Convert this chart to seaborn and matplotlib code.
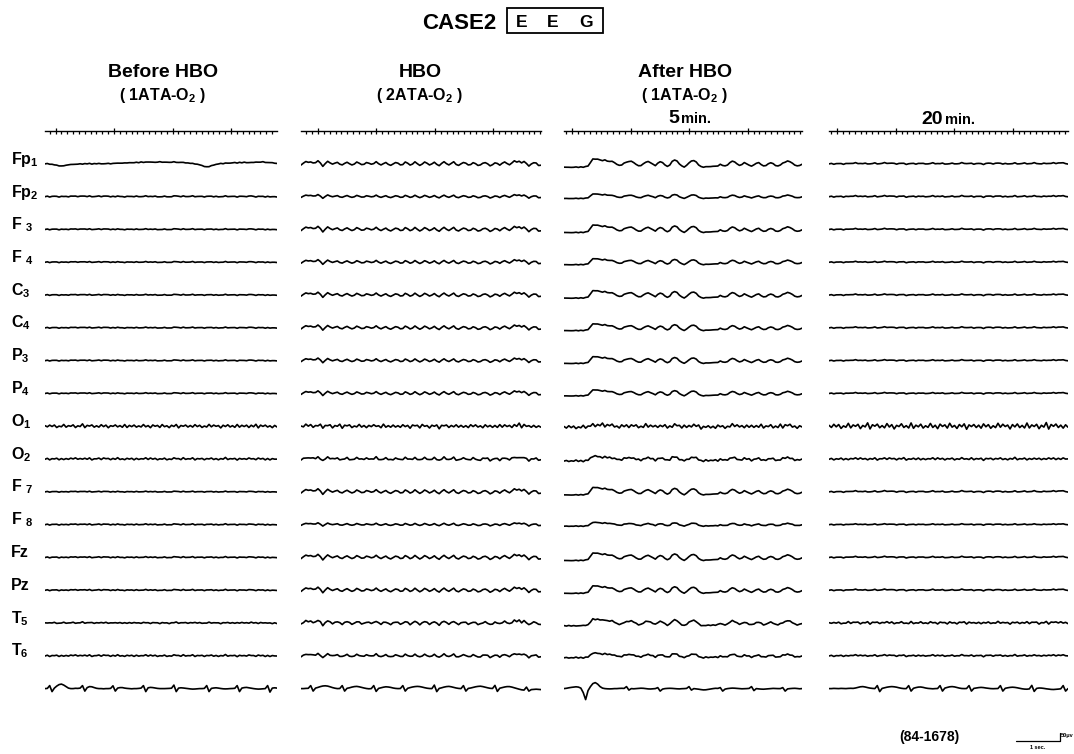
#!/usr/bin/env python3
# -*- coding: utf-8 -*-
import numpy as np
import pandas as pd
import matplotlib
matplotlib.use('Agg')
import matplotlib.pyplot as plt
from matplotlib.ticker import MultipleLocator
from matplotlib.patches import Rectangle
from matplotlib.lines import Line2D
import seaborn as sns

#%% channels

channels=["Fp1","Fp2","F3","F4","C3","C4","P3","P4","O1","O2","F7","F8","Fz","Pz","T5","T6"]
labels=["Fp$_\\mathbf{1}$","Fp$_\\mathbf{2}$","F $_\\mathbf{3}$","F $_\\mathbf{4}$",
        "C$_\\mathbf{3}$","C$_\\mathbf{4}$","P$_\\mathbf{3}$","P$_\\mathbf{4}$",
        "O$_\\mathbf{1}$","O$_\\mathbf{2}$","F $_\\mathbf{7}$","F $_\\mathbf{8}$",
        "Fz","Pz","T$_\\mathbf{5}$","T$_\\mathbf{6}$"]
titles=["Before HBO","HBO","After HBO",""]
subtitles=["( 1ATA-O$_\\mathbf{2}$ )","( 2ATA-O$_\\mathbf{2}$ )","( 1ATA-O$_\\mathbf{2}$ )",""]
times=["","","5","20"]

#%% traces (pixels, up = positive), 100 samples per panel

before_wave=[0,0.3,-0.2,0.2,0.5,0,-0.3,0.2,0.4,0.1,
 -0.2,0.3,0.6,0.2,0,0.4,0.8,0.3,0.1,0.5,
 0.2,-0.1,0.3,0.5,0.1,0.2,0.6,0.3,0,0.2,
 -0.1,0.2,0.4,0,-0.3,0.1,0.3,-0.1,0.2,0.5,
 0.1,-0.2,0.2,0.6,0.2,-0.1,0.1,0.4,0,-0.4,
 -0.1,0.3,0.1,-0.3,0,0.5,0.8,0.3,0.1,0.4,
 0.2,-0.1,0.3,0.6,0.2,0,0.3,0.1,-0.2,0.2,
 0.5,0.1,-0.1,0.3,0,-0.3,0.1,0.4,0.2,0,
 0.3,0.1,-0.2,0.2,0.5,0.1,0,0.3,0.9,0.2,
 -0.3,0,0.3,0.1,-0.2,0.2,0,-0.3,0,-0.5]

fp1_before=[0,0.2,-0.3,-0.5,-1,-1.5,-2,-2.2,-1.8,-1.5,
 -1,-0.8,-0.5,-0.7,-0.3,0,-0.2,0.1,0,0.3,
 -0.1,0.2,0,0.3,0.1,-0.2,0.2,0.4,0.1,0.3,
 0.6,0.4,0.8,0.6,1,0.7,1.2,0.9,1.3,1.5,
 1.2,1.8,1.4,1.6,1.9,1.5,1.7,1.4,1.8,2,
 1.6,1.5,1.8,1.4,1.6,1.9,1.5,1.3,1.6,1.2,
 1.0,0.8,0.5,0.3,0,-0.5,-1,-1.8,-2.6,-3,
 -2.8,-2,-1.2,-0.6,0,0.3,0.1,0.5,0.8,0.6,
 1,1.2,0.9,1.4,1.1,1.6,1.2,1,1.5,1.3,
 1.8,1.4,1.7,2,1.5,1.2,1.4,1,0.6,0.3]

hbo_wave=[-1.0,0.5,2.0,1.2,1.6,0.6,1.0,2.5,0.8,-2.2,
 0.2,2.0,0.8,-0.4,0.6,1.2,-0.2,-1.0,0.4,1.2,
 0.2,-1.0,-0.2,1.4,0.6,-0.8,-0.4,1.0,0.6,-0.4,
 0.2,1.6,0.2,-1.0,0.2,1.0,-0.4,-1.4,0.0,1.0,
 0.6,-1.0,-0.6,1.4,0.6,-1.2,-0.2,1.6,0.2,-1.4,
 -0.2,1.4,0.6,-1.0,0.0,1.2,-0.4,-1.6,0.4,1.6,
 0.2,-1.0,0.4,1.6,-0.4,-1.4,0.0,1.0,0.6,-1.0,
 -0.6,0.8,0.2,-1.4,-0.8,0.4,1.0,-0.2,-1.6,-0.8,
 0.8,0.2,-1.0,0.4,1.6,0.2,-0.8,0.6,2.6,1.4,
 2.2,0.6,2.0,0.2,-1.8,-0.2,1.0,0.6,-1.4,-1.2]

after5_wave=[-3,-3.2,-3,-3.3,-3.1,-3,-3.2,-2.8,-3,-2.5,
 -2,1,4.5,4,4.3,3.5,3,3.5,2.5,2,
 2.5,1,-0.5,-1.5,-1,0.5,1.5,2,2.5,1,
 -0.5,-2,-1.5,0,1.5,2,1,-0.5,-1.5,0.5,
 2,1,-1,-2.5,-1,2,3.5,2.5,0,-2,
 -3,-1.5,1,2.5,3,1.5,-1,-2.5,-3,-2.8,
 -2.5,-2.6,-2.2,-2.3,-1.8,-0.5,-1.5,-2,-1,1,
 2.5,1.5,0,-1.5,-0.5,1,0,-1.5,-2,-1,
 0.5,1,-0.5,-2,-1.5,0,1,0,-1.5,-2,
 -1,0.5,1.5,2.5,2,0.5,-1,-2,-1.5,-0.5]

after20_wave=[0.0,0.2,-0.2,0.1,0.3,0.0,-0.3,0.2,0.5,0.2,
 0.4,0.8,0.3,0.0,0.2,0.5,0.1,-0.2,0.3,0.6,
 0.2,0.0,0.4,0.9,0.5,0.2,0.6,0.3,-0.1,0.2,
 0.5,0.1,-0.3,0.0,0.4,0.2,-0.2,0.1,0.6,0.3,
 0.0,-0.2,0.3,0.7,0.2,-0.1,0.2,0.5,0.0,-0.3,
 0.1,0.4,0.2,-0.1,0.3,0.8,0.4,0.1,0.5,0.2,
 -0.2,0.1,0.4,0.0,-0.3,0.2,0.6,0.3,0.0,0.4,
 0.7,0.2,-0.1,0.3,0.1,-0.2,0.2,0.5,0.1,-0.1,
 0.3,0.6,0.2,0.0,0.4,0.9,0.3,-0.2,0.1,0.5,
 0.3,0.0,0.4,0.8,0.4,0.6,1.0,0.7,0.2,-0.3]

# fast (beta / muscle) component
fast_a=[0.4,-0.6,0.9,-0.3,0.7,-1.0,0.2,-0.5,1.2,-0.8,
 0.5,-0.2,0.8,-1.1,0.3,-0.4,1.5,-1.2,0.6,-0.1,
 0.9,-0.7,0.2,-0.9,1.1,-0.4,0.6,-1.3,0.4,-0.2,
 1.0,-0.6,0.3,-0.8,1.4,-1.0,0.5,-0.3,0.8,-0.9,
 0.2,-0.5,1.2,-0.7,0.4,-1.1,0.9,-0.2,0.6,-0.8,
 1.3,-0.5,0.3,-1.0,0.7,-0.4,1.0,-1.4,0.5,-0.2,
 0.8,-0.6,0.4,-0.9,1.1,-0.3,0.6,-1.0,0.2,-0.7,
 1.2,-0.5,0.9,-0.2,0.5,-1.2,0.7,-0.4,1.0,-0.6,
 0.3,-0.9,1.4,-0.8,0.5,-0.3,0.8,-1.1,0.4,-0.5,
 1.6,-1.3,0.7,-0.2,0.9,-0.7,0.3,-1.0,0.6,-0.4]

fast_b=[-0.3,0.5,-0.8,0.2,-0.4,0.9,-0.6,0.3,-1.0,0.4,
 -0.2,0.7,-0.5,1.1,-0.3,0.2,-0.9,0.6,-0.4,0.8,
 -1.2,0.3,-0.1,0.6,-0.7,1.0,-0.2,0.4,-0.8,0.5,
 -0.3,1.3,-0.9,0.2,-0.5,0.7,-0.4,0.9,-1.1,0.3,
 -0.6,0.5,-0.2,0.8,-0.7,1.2,-0.3,0.4,-0.9,0.6,
 -0.1,0.7,-1.0,0.3,-0.5,0.9,-0.4,0.2,-0.8,1.1,
 -0.6,0.4,-0.3,0.8,-1.2,0.5,-0.2,0.6,-0.7,0.3,
 -0.4,1.0,-0.5,0.2,-0.9,0.7,-0.3,1.4,-0.8,0.4,
 -0.2,0.6,-1.0,0.5,-0.6,0.3,-0.4,0.9,-0.7,0.2,
 -0.5,1.1,-0.3,0.6,-0.8,0.4,-1.0,0.7,-0.2,0.3]

# ECG (last row of each panel)
ecg_before=[0,0.2,3,-3,0.5,2.5,4,4.5,3.5,2,
 0.5,0,0,0.3,0.2,0.5,3,-2.5,1,2,
 1.8,1,0.3,0,0,-0.2,0,0,0.2,2.8,
 -2.5,0.5,1,1,0.5,0.2,0,-0.2,0,0,
 0.2,0.5,3,-3,0.8,1.2,1,0.6,0.2,0,
 0,0,0.1,0.2,0.4,3.5,-3,0.5,0.8,0.6,
 0.3,0,-0.3,-0.5,-0.4,-0.2,0,0,0.2,3,
 -3,0.2,0.6,0.8,0.5,0.1,-0.2,-0.3,-0.2,0,
 0.1,0.3,3,-3,0.5,1,1.2,0.8,0.4,0,
 -0.3,-0.5,-0.4,-0.2,0,3,-3.5,0.5,0.8,0.5]

ecg_hbo=[0,0,0.2,0.3,3,-2.5,0.5,1.2,2,2.6,
 2.8,2.5,1.8,1,0.4,0,0.1,3,-2.5,0.3,
 0.8,1.5,2,2.2,1.8,1.2,0.6,0.1,-0.2,0,
 3,-2.8,0.2,0.8,1.4,1.8,1.6,1.2,0.6,0.2,
 0,0.1,3,-2.5,0.3,1,1.6,2,2.2,2,
 1.5,0.9,0.4,0.1,0,3.5,-3,0.2,0.8,1.5,
 2,2.2,1.8,1.2,0.6,0.2,0,3,-2.5,0.2,
 0.6,1.2,1.8,2.2,2.4,2,1.4,0.8,0.3,0.1,
 3.2,-2.8,0.4,1,1.6,2,2,1.5,0.8,0.1,
 -0.6,-1.2,-1.5,1.5,-2.5,-1,-0.8,-0.6,-0.8,-1]

ecg_after5=[0,0.3,0.8,1.2,1.5,1.8,1.5,0.5,-4,-11,
 -2,2,5,6,4.5,2,0.5,0,-0.2,-0.3,
 -0.2,0,0,0.2,0.3,0.2,2,-1.5,0,-0.2,
 0,0.2,0.4,0.3,0,-0.3,-0.4,-0.2,0,1,
 -2.5,-0.5,0,0.2,0.3,0.2,0,-0.2,-0.3,-0.1,
 0,0.2,2,-1.5,0,-0.3,-0.6,-1,-1.3,-1.2,
 -0.8,-0.4,0,0.3,0.2,1,-2.5,-0.5,0,0.3,
 0.5,0.4,0.2,0,-0.2,-0.1,0,0.2,2,-2,
 0,-0.3,-0.5,-0.6,-0.4,-0.2,0,0.2,0.1,0,
 0,1,-2.5,-0.3,0,0.2,0.3,0.1,-0.2,0]

ecg_after20=[0,0,0.2,0.1,0,0.2,0.1,0,0.2,0.3,
 0.2,0.6,1.2,1.8,2,1.6,1,0.5,0.2,0,
 3,-3,0.2,0.8,1.4,1.8,2,1.8,1.4,0.8,
 0.3,0,0,3,-2.5,0.3,1,1.5,1.6,1.2,
 0.6,0.2,0,-0.2,0,0.1,3,-2.5,0.5,1.2,
 1.8,2,1.7,1.1,0.5,0.1,0,0.1,3,-2.5,
 0.2,0.6,1,1.2,1,0.6,0.3,0,-0.1,0,
 0.1,3,-2.5,0.3,0.8,1.2,1.4,1.2,0.8,0.3,
 -0.2,-0.5,-0.6,-0.3,3.2,-2.8,0.2,0.6,0.5,0.2,
 -0.2,-0.5,-0.8,-0.9,-0.7,-0.5,-0.2,3,-2.5,0]

# per-channel gain of the main rhythm and of the fast component
before_gain=[1,1,0.8,0.8,0.8,0.8,0.8,0.8,0.5,0.8,0.7,0.8,0.8,0.8,0.8,0.8]
before_fast=[0.2,0.3,0.3,0.3,0.3,0.3,0.3,0.3,1.3,0.9,0.3,0.4,0.4,0.4,0.4,0.7]
hbo_gain=[1.2,0.8,1.2,1.0,1.1,1.1,1.0,1.0,0.4,0.8,1.2,0.7,1.2,1.2,1.1,0.9]
hbo_fast=[0.15,0.15,0.15,0.15,0.15,0.15,0.15,0.15,1.4,0.8,0.15,0.2,0.15,0.15,0.4,0.5]
after5_gain=[1.1,0.6,1.0,0.8,1.0,0.9,0.9,0.8,0.3,0.6,1.0,0.5,1.0,1.0,0.9,0.6]
after5_fast=[0.2,0.2,0.2,0.2,0.2,0.2,0.2,0.2,1.5,0.9,0.2,0.3,0.2,0.2,0.3,0.6]
after20_gain=[1.2,1,1,0.9,1,1,0.9,0.9,0.4,0.6,1.2,0.8,1.1,1.1,1,0.9]
after20_fast=[0.3,0.4,0.3,0.3,0.3,0.3,0.3,0.3,2.2,1.0,0.3,0.3,0.3,0.3,0.8,0.6]

#%% layout (pixels)

W,H=1074,754
left=[45,301,564,829]
right=[277,541,802,1068]
phase=[0.18,0.29,0.14,0.14]   # where the 1 s marks fall
pps=58.5                      # px per second
gap=32.8                      # px between rows
top_row=131                   # timing line

def fx(px): return px/W
def fy(py): return 1-py/H

panels=[(before_wave,before_gain,before_fast,ecg_before),
        (hbo_wave,hbo_gain,hbo_fast,ecg_hbo),
        (after5_wave,after5_gain,after5_fast,ecg_after5),
        (after20_wave,after20_gain,after20_fast,ecg_after20)]

parts=[]
for p,(wave,gain,fgain,ecg) in enumerate(panels):
    dur=(right[p]-left[p])/pps
    t=np.linspace(0,dur,len(wave))
    for c,ch in enumerate(channels):
        w=np.array(fp1_before) if (p==0 and ch=="Fp1") else np.array(wave)
        fast=np.array(fast_a if ch in ("O1","T5") else fast_b)
        v=gain[c]*w+fgain[c]*fast
        parts.append(pd.DataFrame({"panel":p,"row":c,"t":t,"v":v-(c+1)*gap}))
    parts.append(pd.DataFrame({"panel":p,"row":16,"t":t,"v":np.array(ecg)-17*gap}))
df=pd.concat(parts,ignore_index=True)

#%% plot

sns.set_theme(style="white")
plt.rcParams['font.family']=['Liberation Sans','DejaVu Sans']
plt.rcParams['text.color']='black'
plt.rcParams['mathtext.fontset']='custom'
plt.rcParams['mathtext.bf']='Liberation Sans:bold'
plt.rcParams['mathtext.rm']='Liberation Sans'

fig=plt.figure(figsize=(W/100,H/100),dpi=100)
fig.patch.set_facecolor('white')

for p in range(4):
    dur=(right[p]-left[p])/pps
    ax=fig.add_axes([fx(left[p]),fy(715),fx(right[p]-left[p]),(715-145)/H])
    sns.lineplot(data=df[df["panel"]==p],x="t",y="v",units="row",estimator=None,
                 sort=False,color="black",lw=1.2,ax=ax,legend=False)
    ax.set_xlim(0,dur)
    ax.set_ylim(-(715-top_row),-(145-top_row))
    ax.axis('off')

    # timing marks: 0.1 s ticks down, 1 s ticks up
    tx=fig.add_axes([fx(left[p]),fy(top_row),fx(right[p]-left[p]),0.01])
    tx.set_xlim(0,dur)
    tx.patch.set_alpha(0)
    for s in ['top','left','right']:
        tx.spines[s].set_visible(False)
    tx.spines['bottom'].set_color('black')
    tx.spines['bottom'].set_linewidth(1.0)
    tx.xaxis.set_major_locator(MultipleLocator(1,offset=phase[p]))
    tx.xaxis.set_minor_locator(MultipleLocator(0.1,offset=phase[p]%0.1))
    tx.tick_params(axis='x',which='major',direction='inout',length=4,width=0.9,
                   colors='black',bottom=True,labelbottom=False)
    tx.tick_params(axis='x',which='minor',direction='out',length=2.2,width=0.9,
                   colors='black',bottom=True)
    tx.set_yticks([])

# column headings
centers=[163,420,685,0]
for p in range(3):
    fig.text(fx(centers[p]),fy(77),titles[p],ha='center',va='baseline',
             fontsize=14,fontweight='bold')
    fig.text(fx(centers[p]),fy(100),subtitles[p],ha='center',va='baseline',
             fontsize=11.5,fontweight='bold')
fig.text(fx(679),fy(123),times[2],ha='right',va='baseline',fontsize=14,fontweight='bold')
fig.text(fx(681),fy(123),'min.',ha='left',va='baseline',fontsize=10.5,fontweight='bold')
fig.text(fx(943),fy(124),times[3],ha='right',va='baseline',fontsize=14,fontweight='bold')
fig.text(fx(945),fy(124),'min.',ha='left',va='baseline',fontsize=10.5,fontweight='bold')

# channel names
for c,lab in enumerate(labels):
    fig.text(fx(11),fy(top_row+(c+1)*gap),lab,ha='left',va='baseline',
             fontsize=11.5,fontweight='bold')

# title
fig.text(fx(422),fy(29),'CASE2',ha='left',va='baseline',fontsize=16,fontweight='bold')
fig.patches.append(Rectangle((fx(507),fy(33)),fx(96),25/H,transform=fig.transFigure,
                             fill=False,lw=1.3,ec='black'))
for xp,ch in zip([522,553,586],'EEG'):
    fig.text(fx(xp),fy(27),ch,ha='center',va='baseline',fontsize=12.5,fontweight='bold')

# reference number and calibration bar
fig.text(fx(899),fy(741),'(84-1678)',ha='left',va='baseline',fontsize=10,fontweight='bold')
fig.lines.append(Line2D([fx(1016),fx(1060),fx(1060)],[fy(741),fy(741),fy(733)],
                        transform=fig.transFigure,color='black',lw=0.9))
fig.text(fx(1061),fy(737),'50μv',ha='left',va='baseline',fontsize=4,fontweight='bold')
fig.text(fx(1038),fy(749),'1 sec.',ha='center',va='baseline',fontsize=4,fontweight='bold')

fig.savefig('out.png',dpi=100,facecolor='white')
